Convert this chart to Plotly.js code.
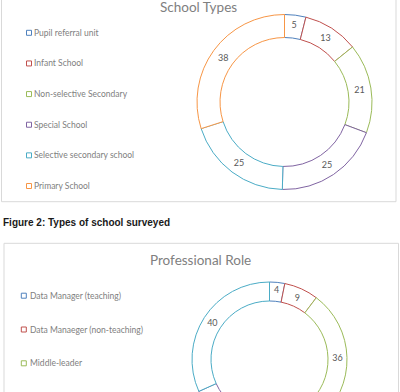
<!DOCTYPE html>
<html>
<head>
<meta charset="utf-8">
<script src="https://cdn.plot.ly/plotly-3.0.1.min.js"></script>
<style>
  html, body { margin: 0; padding: 0; background: #ffffff; overflow: hidden; }
  #chart { width: 400px; height: 480px; }
</style>
</head>
<body>
<div id="chart"></div>
<script>
// School types surveyed
const schoolLabels = ['Pupil referral unit', 'Infant School', 'Non-selective Secondary',
                      'Special School', 'Selective secondary school', 'Primary School'];
const schoolCounts = [5, 13, 21, 25, 25, 38];

// Professional role of respondents
const roleLabels = ['Data Manager (teaching)', 'Data Manaeger (non-teaching)', 'Middle-leader',
                    'Senior leader', 'Teacher'];
const roleCounts = [4, 9, 36, 37, 40];

const captionText = 'Figure 2: Types of school surveyed';
const schoolTitle = 'School Types';
const roleTitle = 'Professional Role';

// Office-style series palette
const palette = ['#4F81BD', '#C0504D', '#9BBB59', '#8064A2', '#4BACC6', '#F79646'];

const W = 400, H = 480;      // drawing surface; the window shows the top 392px
const VIEW_H = 392;
const px = x => x / W;
const py = y => 1 - y / H;

const chartFont = 'Lato, "Open Sans", sans-serif';
const labelGrey = '#595959';
const textGrey = '#808080';

function donut(values, labels, cx, cy, r, hole) {
  return {
    type: 'pie',
    values: values,
    labels: labels,
    sort: false,
    direction: 'clockwise',
    rotation: 0,
    hole: hole,
    domain: { x: [px(cx - r), px(cx + r)], y: [py(cy + r), py(cy - r)] },
    marker: {
      colors: values.map(() => '#ffffff'),
      line: { color: palette.slice(0, values.length), width: 1 }
    },
    textinfo: 'value',
    textposition: 'inside',
    insidetextorientation: 'horizontal',
    textfont: { family: chartFont, size: 9, color: labelGrey },
    hoverinfo: 'none',
    showlegend: false
  };
}

const data = [
  donut(schoolCounts, schoolLabels, 284.5, 102, 87.5, 0.737),
  donut(roleCounts, roleLabels, 269.5, 359.5, 77.5, 0.755)
];

const shapes = [
  // chart frames
  { type: 'rect', xref: 'paper', yref: 'paper', x0: px(1.5), x1: px(396), y0: py(201.7), y1: py(-2),
    line: { color: '#d9d9d9', width: 1 }, fillcolor: 'rgba(0,0,0,0)', layer: 'below' },
  { type: 'rect', xref: 'paper', yref: 'paper', x0: px(4), x1: px(398.5), y0: py(520), y1: py(243.3),
    line: { color: '#d9d9d9', width: 1 }, fillcolor: 'rgba(0,0,0,0)', layer: 'below' }
];

const annotations = [
  { text: schoolTitle, x: px(198.5), y: py(7), xref: 'paper', yref: 'paper',
    xanchor: 'center', yanchor: 'middle', showarrow: false,
    font: { family: chartFont, size: 13.5, color: textGrey } },
  { text: roleTitle, x: px(201), y: py(260), xref: 'paper', yref: 'paper',
    xanchor: 'center', yanchor: 'middle', showarrow: false,
    font: { family: chartFont, size: 13.5, color: textGrey } },
  { text: '<b>' + captionText + '</b>', x: px(1), y: py(222), xref: 'paper', yref: 'paper',
    xanchor: 'left', yanchor: 'middle', showarrow: false,
    font: { family: '"Liberation Sans", Arial, sans-serif', size: 10, color: '#1a1a1a' } }
];

// Legend column: hollow square swatch + label for each series point,
// stopping at rows that would fall below the visible window
function addLegend(labels, sqX, textX, y0, step) {
  labels.forEach((lab, i) => {
    const y = y0 + i * step;
    if (y + 6 > VIEW_H) return;
    shapes.push({ type: 'rect', xref: 'paper', yref: 'paper',
      x0: px(sqX), x1: px(sqX + 5), y0: py(y + 2.5), y1: py(y - 2.5),
      line: { color: palette[i], width: 1 }, fillcolor: '#ffffff' });
    annotations.push({ text: lab, x: px(textX), y: py(y), xref: 'paper', yref: 'paper',
      xanchor: 'left', yanchor: 'middle', showarrow: false,
      font: { family: chartFont, size: 8.5, color: textGrey } });
  });
}
addLegend(schoolLabels, 26.5, 31.5, 32.8, 30.64);
addLegend(roleLabels, 21.3, 27.5, 295.7, 33.8);

const layout = {
  width: W, height: H,
  margin: { l: 0, r: 0, t: 0, b: 0 },
  paper_bgcolor: '#ffffff',
  showlegend: false,
  shapes: shapes,
  annotations: annotations
};

Plotly.newPlot('chart', data, layout, { displayModeBar: false, staticPlot: true });
</script>
</body>
</html>
